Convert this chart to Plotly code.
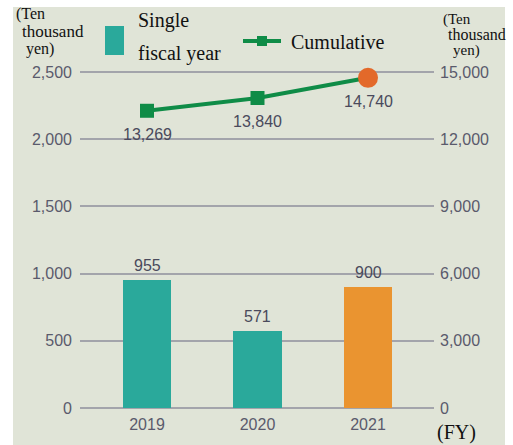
import plotly.graph_objects as go

years = ["2019", "2020", "2021"]
single = [955, 571, 900]
cumulative = [13269, 13840, 14740]
left_ticks = [0, 500, 1000, 1500, 2000, 2500]
right_ticks = [0, 3000, 6000, 9000, 12000, 15000]

bar_colors = ["#2aa99b", "#2aa99b", "#ea9430"]
TEAL = "#2aa99b"
GREEN = "#0f8c47"
ORANGE = "#e3692a"
PANEL = "#e0e4d7"
GRID = "#a3a4ab"
TICKC = "#5a5a6c"

W, H = 513, 445
L, R, T, B = 80, 434, 70, 410   # plot area incl. 2px padding top/bottom
Y0, Y1 = 408, 72                 # pixel rows for value 0 and 2500
XC0, XSTEP = 147, 110.5          # pixel centre of first category, spacing


def px(x):
    return (x - L) / (R - L)


def py(y):
    return (B - y) / (B - T)


fig = go.Figure()
fig.add_trace(go.Bar(x=years, y=single, marker=dict(color=bar_colors, line=dict(width=0)),
                     width=0.44, yaxis="y", showlegend=False))
fig.add_trace(go.Scatter(x=years, y=cumulative, yaxis="y2", mode="lines+markers",
                         line=dict(color=GREEN, width=4),
                         marker=dict(symbol=["square", "square", "circle"],
                                     size=[14, 14, 20], opacity=1,
                                     color=[GREEN, GREEN, ORANGE],
                                     line=dict(width=0)),
                         opacity=1, cliponaxis=False, showlegend=False))

ann = []
lab_font = dict(family="Liberation Sans, Arial", size=16, color="#4a4a5c")
for i, v in enumerate(single):
    ann.append(dict(x=i, y=v, xref="x", yref="y", text=f"{v:,}", showarrow=False,
                    yanchor="bottom", yshift=4, font=lab_font))
for i, v in enumerate(cumulative):
    ann.append(dict(x=i, y=v, xref="x", yref="y2", text=f"{v:,}", showarrow=False,
                    yanchor="top", yshift=-13, font=lab_font))

serif = "Liberation Serif, Times New Roman"
def txt(x, y, s, size=17, anchor="left"):
    ann.append(dict(x=px(x), y=py(y), xref="paper", yref="paper", text=s, showarrow=False,
                    xanchor=anchor, yanchor="middle", font=dict(family=serif, size=size, color="#111")))

txt(14, 14, "(Ten", 16)
txt(20, 32, "thousand", 17)
txt(24, 49, "yen)", 16)
txt(441, 19, "(Ten", 15)
txt(446, 35, "thousand", 16)
txt(451, 51, "yen)", 15)
txt(136, 20, "Single", 20)
txt(136, 54, "fiscal year", 20)
txt(289, 42, "Cumulative", 20)
txt(435, 432, "(FY)", 20)

shapes = [
    dict(type="rect", xref="paper", yref="paper", x0=px(13), x1=px(505), y0=py(446), y1=py(7),
         fillcolor=PANEL, line=dict(width=0), layer="below"),
    dict(type="rect", xref="paper", yref="paper", x0=px(105), x1=px(124), y0=py(55), y1=py(26),
         fillcolor=TEAL, line=dict(width=0)),
    dict(type="line", xref="paper", yref="paper", x0=px(243), x1=px(281), y0=py(41), y1=py(41),
         line=dict(color=GREEN, width=4)),
    dict(type="rect", xref="paper", yref="paper", x0=px(257), x1=px(267), y0=py(46), y1=py(36),
         fillcolor=GREEN, line=dict(width=0)),
]

# value padding so that edge gridlines are drawn
upp = 2500 / (Y0 - Y1)
pad = 2 * upp
xr = [-(XC0 - L) / XSTEP, 2 + (R - (XC0 + 2 * XSTEP)) / XSTEP]
tick_font = dict(family="Liberation Sans, Arial", size=16, color=TICKC)
fig.update_layout(
    width=W, height=H,
    margin=dict(l=L, r=W - R, t=T, b=H - B, pad=0, autoexpand=False),
    paper_bgcolor="white", plot_bgcolor=PANEL,
    bargap=0,
    xaxis=dict(type="category", range=xr, showgrid=False, zeroline=False,
               showline=False, ticks="", tickfont=tick_font, ticklabelstandoff=3,
               automargin=False),
    yaxis=dict(range=[-pad, 2500 + pad], tickvals=left_ticks, tickformat=",", showgrid=True,
               gridcolor=GRID, gridwidth=2, zeroline=False, showline=False,
               ticks="", tickfont=tick_font, ticklabelstandoff=7, automargin=False),
    yaxis2=dict(range=[-6 * pad, 15000 + 6 * pad], tickvals=right_ticks, tickformat=",",
                overlaying="y", side="right", showgrid=False, zeroline=False, showline=False,
                ticks="", tickfont=tick_font, ticklabelstandoff=5, automargin=False),
    annotations=ann, shapes=shapes, showlegend=False,
)

fig.write_html("out.html", config={"displayModeBar": False},
               post_script="document.body.style.margin='0';document.body.style.padding='0';")
